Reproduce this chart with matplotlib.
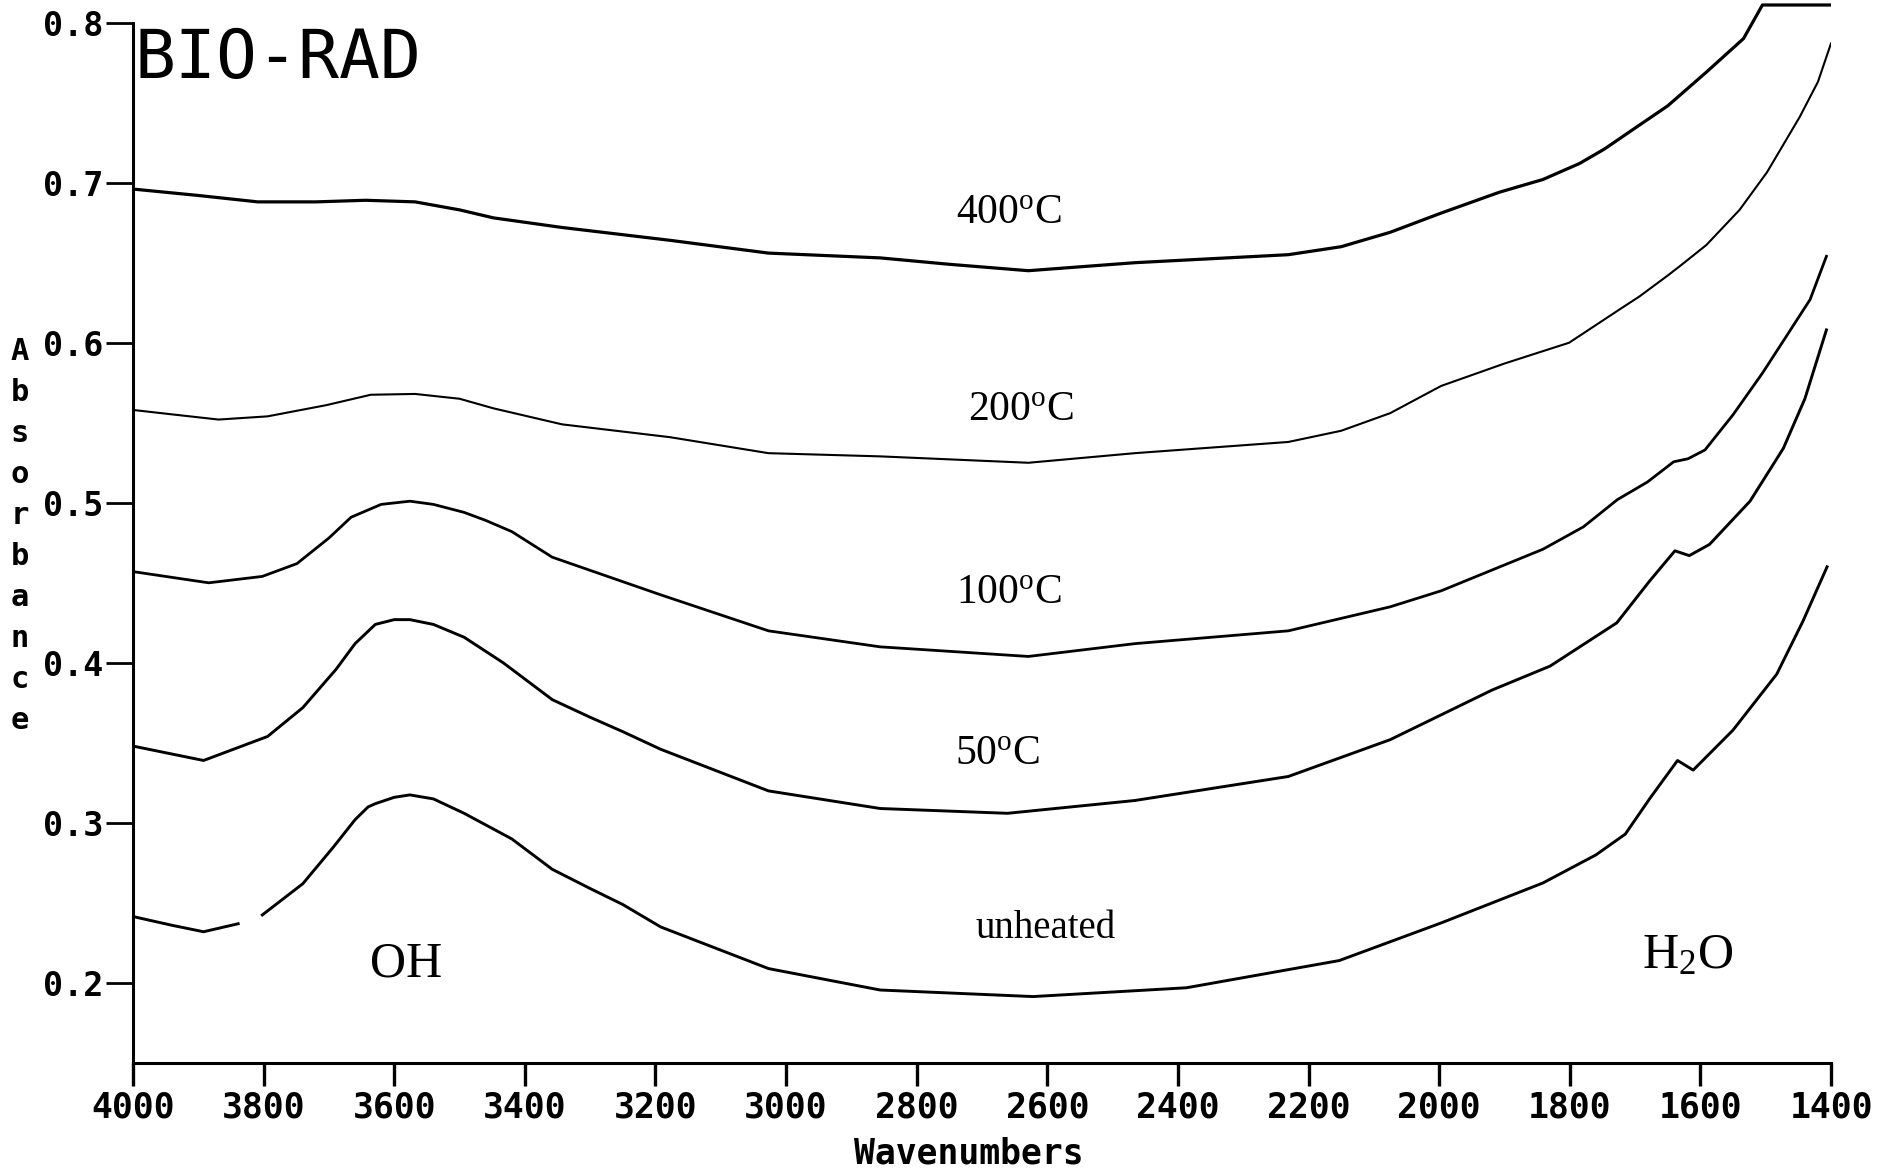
import numpy as np
import matplotlib
matplotlib.use("Agg")
import matplotlib.pyplot as plt

plt.rcParams['mathtext.fontset'] = 'custom'
plt.rcParams['mathtext.rm'] = 'Liberation Serif'
plt.rcParams['mathtext.it'] = 'Liberation Serif:italic'

# wavenumber / absorbance
wn_400 = [4000, 3900, 3809, 3720, 3644, 3568, 3500, 3448, 3343, 3178, 3027, 2856, 2750, 2629,
          2466, 2231, 2150, 2075, 1997, 1908, 1841, 1785, 1747, 1704, 1650, 1591, 1534, 1505, 1400]
abs_400 = [0.696, 0.692, 0.688, 0.688, 0.689, 0.688, 0.683, 0.678, 0.672, 0.664, 0.656, 0.653, 0.649, 0.645,
           0.650, 0.655, 0.660, 0.669, 0.681, 0.694, 0.702, 0.712, 0.721, 0.733, 0.748, 0.769, 0.790, 0.811, 0.811]

wn_200 = [4000, 3935, 3869, 3794, 3704, 3636, 3568, 3500, 3448, 3343, 3178, 3027, 2856, 2629,
          2466, 2231, 2150, 2075, 1997, 1900, 1801, 1723, 1693, 1650, 1631, 1591, 1540, 1498, 1448, 1420, 1400]
abs_200 = [0.558, 0.555, 0.552, 0.554, 0.561, 0.5675, 0.568, 0.565, 0.559, 0.549, 0.541, 0.531, 0.529, 0.525,
           0.531, 0.538, 0.545, 0.556, 0.573, 0.587, 0.600, 0.621, 0.629, 0.642, 0.648, 0.661, 0.683, 0.7065, 0.741,
           0.763, 0.787]

wn_100 = [4000, 3884, 3802, 3749, 3700, 3666, 3620, 3576, 3540, 3493, 3460, 3420, 3358, 3192, 3027, 2856,
          2629, 2466, 2231, 2075, 1997, 1841, 1779, 1727, 1681, 1641, 1619, 1593, 1550, 1505, 1470, 1432, 1407]
abs_100 = [0.457, 0.450, 0.454, 0.462, 0.478, 0.491, 0.499, 0.501, 0.499, 0.494, 0.489, 0.482, 0.466, 0.4425,
           0.420, 0.410, 0.404, 0.412, 0.420, 0.435, 0.445, 0.471, 0.485, 0.502, 0.513, 0.5256, 0.5275, 0.533,
           0.555, 0.581, 0.603, 0.627, 0.654]

wn_50 = [4000, 3892, 3794, 3740, 3689, 3660, 3629, 3600, 3576, 3540, 3493, 3433, 3358, 3300, 3250, 3192, 3027,
         2856, 2661, 2466, 2231, 2075, 1919, 1830, 1728, 1678, 1639, 1617, 1586, 1524, 1473, 1440, 1407]
abs_50 = [0.348, 0.339, 0.354, 0.372, 0.396, 0.412, 0.424, 0.427, 0.427, 0.424, 0.416, 0.400, 0.377, 0.366,
          0.357, 0.346, 0.320, 0.309, 0.306, 0.314, 0.329, 0.352, 0.383, 0.398, 0.425, 0.451, 0.470, 0.467,
          0.474, 0.501, 0.534, 0.565, 0.608]

# pen lifted between 3839 and 3802 on the unheated trace
wn_unh = [4000, 3940, 3892, 3839, 3820, 3802, 3740, 3693, 3660, 3640, 3629, 3600, 3576, 3540, 3493, 3420,
          3358, 3300, 3250, 3192, 3027, 2856, 2622, 2387, 2153, 1997, 1841, 1760, 1715, 1677, 1635, 1611,
          1550, 1483, 1443, 1406]
abs_unh = [0.2415, 0.236, 0.232, 0.237, np.nan, 0.2425, 0.262, 0.285, 0.302, 0.310, 0.312, 0.316, 0.3175,
           0.315, 0.306, 0.290, 0.271, 0.259, 0.249, 0.235, 0.209, 0.1956, 0.1915, 0.197, 0.214, 0.2375,
           0.2625, 0.280, 0.293, 0.3155, 0.339, 0.333, 0.358, 0.393, 0.426, 0.460]

x_ticks = list(range(4000, 1399, -200))
y_ticks = [0.2, 0.3, 0.4, 0.5, 0.6, 0.7, 0.8]

fig = plt.figure(figsize=(18.84, 11.74), dpi=100)
ax = fig.add_axes([0.0706, 0.09455, 0.90127, 0.9046])

ax.plot(wn_400, abs_400, color='black', lw=2.3)
ax.plot(wn_200, abs_200, color='black', lw=1.5)
ax.plot(wn_100, abs_100, color='black', lw=2.0)
ax.plot(wn_50, abs_50, color='black', lw=2.1)
ax.plot(wn_unh, abs_unh, color='black', lw=2.1)

ax.set_xlim(4000, 1400)
ax.set_ylim(0.15, 0.8135)

for s in ['top', 'right']:
    ax.spines[s].set_visible(False)
ax.spines['left'].set_bounds(0.15, 0.8)
ax.spines['left'].set_linewidth(2.2)
ax.spines['bottom'].set_linewidth(2.2)

mono = 'DejaVu Sans Mono'
ax.set_xticks(x_ticks)
ax.set_xticklabels([str(t) for t in x_ticks], family=mono, fontweight='bold', fontsize=25)
ax.set_yticks(y_ticks)
ax.set_yticklabels(['%.1f' % t for t in y_ticks], family=mono, fontweight='bold', fontsize=24)
ax.tick_params(axis='x', length=16.5, width=2.4, pad=3, direction='out')
ax.tick_params(axis='y', length=19.5, width=2.0, pad=2, direction='out')

# annotations
serif = 'Liberation Serif'
lab_kw = dict(ha='center', va='center', family=serif, fontsize=30)
ax.text(2659, 0.681, r'400$^{\rm o}$C', **lab_kw)
ax.text(2640, 0.558, r'200$^{\rm o}$C', **lab_kw)
ax.text(2659, 0.444, r'100$^{\rm o}$C', **lab_kw)
ax.text(2677, 0.343, r'50$^{\rm o}$C', **lab_kw)
ax.text(2603, 0.234, 'unheated', ha='center', va='center', family=serif, fontsize=28)
ax.text(3582, 0.212, 'OH', ha='center', va='center', family=serif, fontsize=36)
ax.text(1619, 0.217, r'H$_{\rm 2}$O', ha='center', va='center', family=serif, fontsize=36)

ax.text(3997, 0.777, 'BIO-RAD', ha='left', va='center', family=mono, fontsize=49)

# stacked y-axis label
word = 'Absorbance'
for i, ch in enumerate(word):
    fig.text(20 / 1884, 1 - (352 + i * 40.9) / 1174, ch, ha='center', va='center',
             family=mono, fontweight='bold', fontsize=22)

fig.text(969 / 1884, 1 - 1137 / 1174, 'Wavenumbers', ha='center', va='top',
         family=mono, fontweight='bold', fontsize=25)

fig.savefig('out.png', dpi=100, facecolor='white')
